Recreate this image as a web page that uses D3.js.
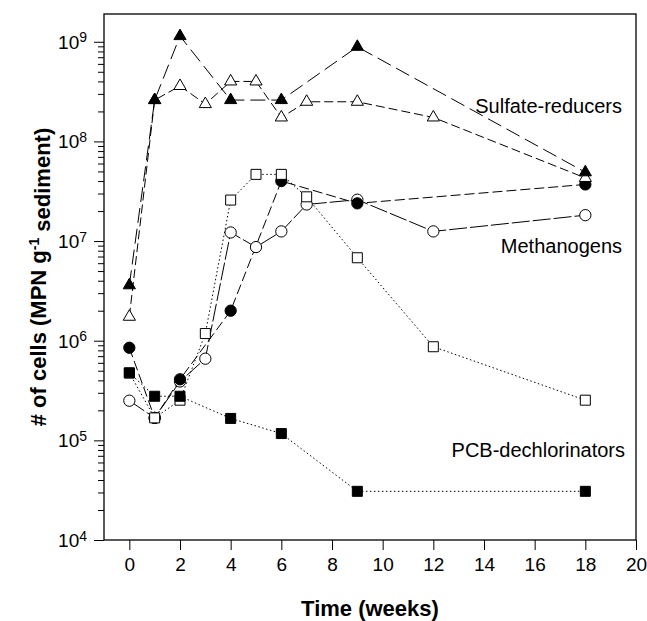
<!DOCTYPE html>
<html>
<head>
<meta charset="utf-8">
<script src="https://cdn.jsdelivr.net/npm/d3@7"></script>
<style>
    body { margin: 0; background: #fff; }
    svg { display: block; font-family: "Liberation Sans", Arial, sans-serif; }
</style>
</head>
<body>
<svg id="chart" width="647" height="621"></svg>
<script>
// sampling weeks
const weeksFull = [0, 1, 2, 3, 4, 5, 6, 7, 9, 12, 18];
const weeksSparse = [0, 1, 2, 4, 6, 9, 18];

// MPN values (cells per g sediment)
const sulfateFilled = [3.6e6, 2.6e8, 1.14e9, 2.6e8, 2.6e8, 8.9e8, 4.9e7];
const sulfateOpen = [1.74e6, 2.6e8, 3.6e8, 2.37e8, 4.0e8, 4.0e8, 1.74e8, 2.5e8, 2.5e8, 1.74e8, 4.3e7];
const methFilled = [8.5e5, 1.68e5, 4.1e5, 2.0e6, 4.0e7, 2.39e7, 3.7e7];
const methOpen = [2.5e5, 1.68e5, 3.9e5, 6.6e5, 1.22e7, 8.7e6, 1.25e7, 2.33e7, 2.6e7, 1.25e7, 1.82e7];
const pcbOpen = [4.75e5, 1.68e5, 2.53e5, 1.18e6, 2.58e7, 4.67e7, 4.67e7, 2.78e7, 6.8e6, 8.7e5, 2.53e5];
const pcbFilled = [4.75e5, 2.77e5, 2.77e5, 1.66e5, 1.17e5, 3.08e4, 3.08e4];

const xTicks = [0, 2, 4, 6, 8, 10, 12, 14, 16, 18, 20];
const yExponents = [4, 5, 6, 7, 8, 9];
const groupLabels = ["Sulfate-reducers", "Methanogens", "PCB-dechlorinators"];

const margin = {top: 14, right: 11, bottom: 81, left: 104};
const width = 647 - margin.left - margin.right;
const height = 621 - margin.top - margin.bottom;

const svg = d3.select("#chart");
const g = svg.append("g")
    .attr("transform", "translate(" + margin.left + "," + margin.top + ")");

const x = d3.scaleLinear().domain([-1, 20]).range([0, width]);
const y = d3.scaleLog().domain([1e4, 1.9e9]).range([height, 0]);

// x axis
const xAxis = g.append("g")
    .attr("transform", "translate(0," + height + ")")
    .call(d3.axisBottom(x).tickValues(xTicks).tickSize(10).tickSizeOuter(0).tickPadding(8));
xAxis.select(".domain").remove();
xAxis.selectAll("line").attr("stroke", "#000");
xAxis.selectAll("text")
    .attr("font-size", 19)
    .attr("font-family", "Liberation Sans, Arial, sans-serif")
    .attr("fill", "#000");

// y axis: minor ticks, then major ticks with 10^n labels
const minorTicks = [];
for (let e = 4; e < 9; e++) {
    for (let m = 2; m <= 9; m++) minorTicks.push(m * Math.pow(10, e));
}
g.append("g")
    .call(d3.axisLeft(y).tickValues(minorTicks).tickSize(6).tickFormat(""))
    .call(a => a.select(".domain").remove())
    .selectAll("line").attr("stroke", "#000");

const yAxis = g.append("g")
    .call(d3.axisLeft(y).tickValues(yExponents.map(e => Math.pow(10, e))).tickSize(10).tickFormat(""));
yAxis.select(".domain").remove();
yAxis.selectAll("line").attr("stroke", "#000");

const yLab = g.append("g").selectAll("text")
    .data(yExponents)
    .join("text")
    .attr("x", -17)
    .attr("y", d => y(Math.pow(10, d)))
    .attr("dy", "0.36em")
    .attr("text-anchor", "end")
    .attr("font-size", 19);
yLab.append("tspan").text("10");
yLab.append("tspan").attr("dy", "-0.45em").attr("font-size", 14).text(d => d);

// frame
g.append("rect")
    .attr("width", width)
    .attr("height", height)
    .attr("fill", "none")
    .attr("stroke", "#000")
    .attr("stroke-width", 1.3);

const series = [
    {weeks: weeksFull, values: methOpen, shape: "circle", filled: false, dash: "18,3"},
    {weeks: weeksSparse, values: methFilled, shape: "circle", filled: true, dash: "10,4"},
    {weeks: weeksFull, values: pcbOpen, shape: "square", filled: false, dash: "1.5,2.5"},
    {weeks: weeksSparse, values: pcbFilled, shape: "square", filled: true, dash: "1.5,2.5"},
    {weeks: weeksFull, values: sulfateOpen, shape: "triangle", filled: false, dash: "9,4"},
    {weeks: weeksSparse, values: sulfateFilled, shape: "triangle", filled: true, dash: "15,6"}
];

const line = d3.line().x(d => x(d[0])).y(d => y(d[1]));

series.forEach(s => {
    s.points = s.weeks.map((w, i) => [w, s.values[i]]);
});

g.append("g").selectAll("path")
    .data(series)
    .join("path")
    .attr("d", s => line(s.points))
    .attr("fill", "none")
    .attr("stroke", "#000")
    .attr("stroke-width", 1)
    .attr("stroke-dasharray", s => s.dash);

const symbols = {
    circle: d3.symbol().type(d3.symbolCircle).size(100),
    square: d3.symbol().type(d3.symbolSquare).size(100),
    triangle: d3.symbol().type(d3.symbolTriangle).size(64)
};

series.forEach(s => {
    g.append("g").selectAll("path")
        .data(s.points)
        .join("path")
        .attr("transform", d => "translate(" + x(d[0]) + "," + y(d[1]) + ")")
        .attr("d", symbols[s.shape]())
        .attr("fill", s.filled ? "#000" : "#fff")
        .attr("stroke", "#000")
        .attr("stroke-width", 1);
});

// group annotations
const labelPos = [[518, 99], [518, 239], [521, 443]];
g.append("g").selectAll("text")
    .data(groupLabels)
    .join("text")
    .attr("x", (d, i) => labelPos[i][0])
    .attr("y", (d, i) => labelPos[i][1])
    .attr("text-anchor", "end")
    .attr("font-size", 20)
    .text(d => d);

// axis titles
svg.append("text")
    .attr("x", margin.left + width / 2)
    .attr("y", 616)
    .attr("text-anchor", "middle")
    .attr("font-size", 22)
    .attr("font-weight", "bold")
    .text("Time (weeks)");

const yt = svg.append("text")
    .attr("transform", "translate(46," + (margin.top + height / 2) + ") rotate(-90)")
    .attr("text-anchor", "middle")
    .attr("font-size", 22)
    .attr("font-weight", "bold");
yt.append("tspan").text("# of cells (MPN g");
yt.append("tspan").attr("dy", "-0.5em").attr("font-size", 14).text("-1");
yt.append("tspan").attr("dy", "0.5em").text(" sediment)");
</script>
</body>
</html>
